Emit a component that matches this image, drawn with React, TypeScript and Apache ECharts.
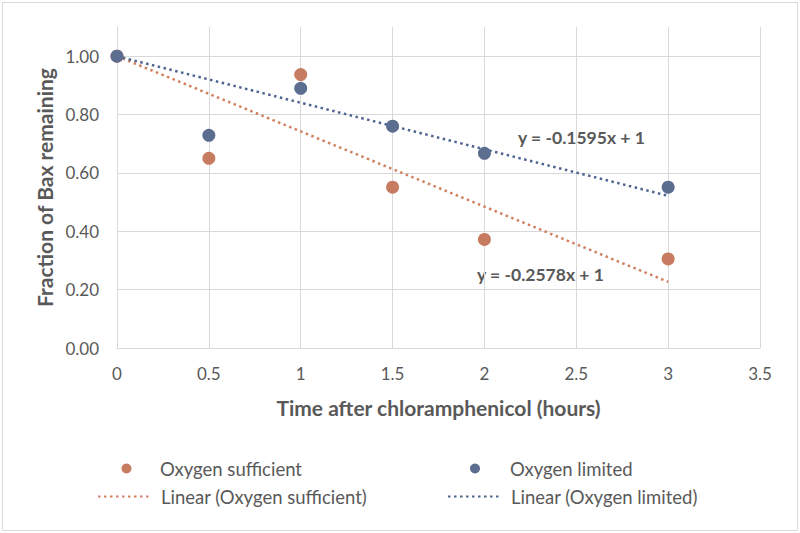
import React, { useEffect, useRef } from "react";
import * as echarts from "echarts";

const timeHours = [0, 0.5, 1, 1.5, 2, 3];
const oxygenSufficient = [1.0, 0.65, 0.937, 0.551, 0.372, 0.305];
const oxygenLimited = [1.0, 0.729, 0.89, 0.76, 0.667, 0.551];
// trendline endpoints: y = -0.2578x + 1 and y = -0.1595x + 1 over x in [0, 3]
const trendSufficient: [number, number][] = [[0, 1], [3, 0.2266]];
const trendLimited: [number, number][] = [[0, 1], [3, 0.5215]];
const eqSufficient = "y = -0.2578x + 1";
const eqLimited = "y = -0.1595x + 1";

const FONT = "Lato";
const TXT = "#595959";
const ORANGE = "#C77C61";
const BLUE = "#5B6E90";
const ORANGE_LINE = "#D0805F";
const BLUE_LINE = "#4E6590";

export default function App() {
  const ref = useRef<HTMLDivElement>(null);
  useEffect(() => {
    if (!ref.current) return;
    const chart = echarts.init(ref.current, undefined, { renderer: "svg" });
    const legendText = (padLeft: number) => ({
      color: TXT,
      fontFamily: FONT,
      fontSize: 18.5,
      padding: [0, 0, 0, padLeft],
    });
    chart.setOption({
      animation: false,
      backgroundColor: "#ffffff",
      grid: { left: 117, right: 40, top: 27, bottom: 185 },
      xAxis: {
        type: "value",
        min: 0,
        max: 3.5,
        interval: 0.5,
        name: "Time after chloramphenicol (hours)",
        nameLocation: "middle",
        nameGap: 49,
        nameTextStyle: { color: TXT, fontFamily: FONT, fontSize: 21, fontWeight: "bold" },
        axisLine: { show: true, lineStyle: { color: "#d9d9d9", width: 1 } },
        axisTick: { show: false },
        axisLabel: { color: TXT, fontFamily: FONT, fontSize: 17, margin: 17 },
        splitLine: { show: true, lineStyle: { color: "#d9d9d9", width: 1 } },
      },
      yAxis: {
        type: "value",
        min: 0,
        max: 1.1,
        interval: 0.2,
        name: "Fraction of Bax remaining",
        nameLocation: "middle",
        nameGap: 61,
        nameTextStyle: { color: TXT, fontFamily: FONT, fontSize: 21, fontWeight: "bold" },
        axisLine: { show: true, lineStyle: { color: "#d9d9d9", width: 1 } },
        axisTick: { show: false },
        axisLabel: {
          color: TXT,
          fontFamily: FONT,
          fontSize: 17,
          margin: 18,
          showMaxLabel: false,
          formatter: (v: number) => v.toFixed(2),
        },
        splitLine: { show: true, showMaxLine: false, lineStyle: { color: "#d9d9d9", width: 1 } },
      },
      legend: [
        {
          left: 116.5, top: 454, itemWidth: 10, itemHeight: 10, selectedMode: false,
          textStyle: legendText(23.5),
          data: [{ name: "Oxygen sufficient", icon: "circle" }],
        },
        {
          left: 465, top: 454, itemWidth: 10, itemHeight: 10, selectedMode: false,
          textStyle: legendText(25),
          data: [{ name: "Oxygen limited", icon: "circle" }],
        },
        {
          left: 92, top: 482, itemWidth: 53, itemHeight: 10, selectedMode: false,
          itemStyle: { opacity: 0 },
          textStyle: legendText(5),
          data: ["Linear (Oxygen sufficient)"],
        },
        {
          left: 442, top: 482, itemWidth: 53, itemHeight: 10, selectedMode: false,
          itemStyle: { opacity: 0 },
          textStyle: legendText(5),
          data: ["Linear (Oxygen limited)"],
        },
      ],
      graphic: [
        {
          type: "rect",
          shape: { x: 2.5, y: 2.5, width: 795, height: 528 },
          style: { fill: "none", stroke: "#d9d9d9", lineWidth: 1 },
          silent: true,
        },
        {
          type: "text",
          x: 518,
          y: 137,
          style: { text: eqLimited, fill: TXT, font: `bold 17.5px ${FONT}`, verticalAlign: "middle" },
        },
        {
          type: "text",
          x: 477,
          y: 274,
          style: { text: eqSufficient, fill: TXT, font: `bold 17.5px ${FONT}`, verticalAlign: "middle" },
        },
      ],
      series: [
        {
          name: "Linear (Oxygen sufficient)",
          type: "line",
          data: trendSufficient,
          symbol: "none",
          lineStyle: { color: ORANGE_LINE, width: 2.5, type: [2.5, 3.5] },
          itemStyle: { color: ORANGE_LINE },
          z: 1,
        },
        {
          name: "Linear (Oxygen limited)",
          type: "line",
          data: trendLimited,
          symbol: "none",
          lineStyle: { color: BLUE_LINE, width: 2.5, type: [2.5, 3.5] },
          itemStyle: { color: BLUE_LINE },
          z: 1,
        },
        {
          name: "Oxygen sufficient",
          type: "scatter",
          symbol: "circle",
          symbolSize: 13,
          data: timeHours.map((t, i) => [t, oxygenSufficient[i]]),
          itemStyle: { color: ORANGE, opacity: 1 },
          z: 2,
        },
        {
          name: "Oxygen limited",
          type: "scatter",
          symbol: "circle",
          symbolSize: 13,
          data: timeHours.map((t, i) => [t, oxygenLimited[i]]),
          itemStyle: { color: BLUE, opacity: 1 },
          z: 3,
        },
      ],
    });
    return () => chart.dispose();
  }, []);
  return (
    <div
      ref={ref}
      style={{ position: "fixed", left: 0, top: 0, width: 800, height: 533 }}
    />
  );
}
